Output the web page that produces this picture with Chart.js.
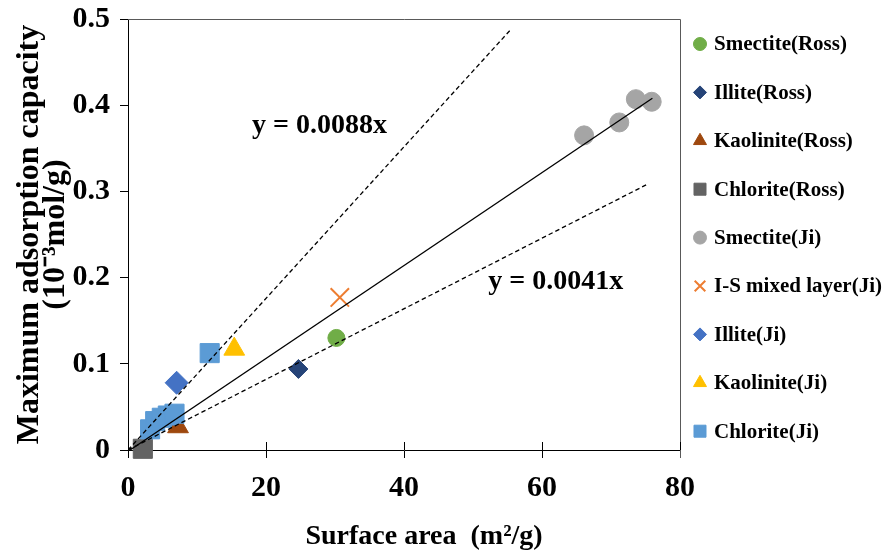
<!DOCTYPE html>
<html>
<head>
<meta charset="utf-8">
<script src="https://cdn.jsdelivr.net/npm/chart.js@4.4.1/dist/chart.umd.min.js"></script>
<style>
    html, body { margin: 0; padding: 0; background: #fff; }
    #wrap { width: 887px; height: 556px; }
</style>
</head>
<body>
<div id="wrap"><canvas id="chart" width="887" height="556"></canvas></div>
<script>
// series (surface area m2/g, capacity 10^-3 mol/g)
const seriesNames = ["Smectite(Ross)", "Illite(Ross)", "Kaolinite(Ross)", "Chlorite(Ross)",
    "Smectite(Ji)", "I-S mixed layer(Ji)", "Illite(Ji)", "Kaolinite(Ji)", "Chlorite(Ji)"];

const smectiteRossX = [30.2];
const smectiteRossY = [0.130];
const illiteRossX = [24.7];
const illiteRossY = [0.094];
const kaoliniteRossX = [7.25];
const kaoliniteRossY = [0.027];
const chloriteRossX = [2.15];
const chloriteRossY = [0.0014];
const smectiteJiX = [66.1, 71.2, 73.6, 75.9];
const smectiteJiY = [0.365, 0.380, 0.407, 0.404];
const isMixedJiX = [30.7];
const isMixedJiY = [0.177];
const illiteJiX = [7.05];
const illiteJiY = [0.078];
const kaoliniteJiX = [15.4];
const kaoliniteJiY = [0.117];
const chloriteJiX = [3.2, 3.94, 4.9, 5.77, 6.74, 11.84];
const chloriteJiY = [0.024, 0.0335, 0.0374, 0.040, 0.0421, 0.1124];

// trend lines (end points)
const trendAllX = [0.3, 76.0];
const trendAllY = [0.0, 0.408];
const trendHighX = [0, 55.5];
const trendHighY = [0, 0.488];
const trendLowX = [0, 75.2];
const trendLowY = [0, 0.308];

const equationTexts = ["y = 0.0088x", "y = 0.0041x"];
const equationX = [27.75, 62.0];
const equationY = [0.376, 0.195];

const xTicks = [0, 20, 40, 60, 80];
const yTicks = [0, 0.1, 0.2, 0.3, 0.4, 0.5];
const xTitle = "Surface area  (m\u00B2/g)";
const yTitle = ["Maximum adsorption capacity", "(10\u207B\u00B3mol/g)"];

// styling
const FONT = "'Liberation Serif', 'Times New Roman', serif";
const seriesColors = ["#70AD47", "#264478", "#9E480E", "#636363", "#A5A5A5", "#ED7D31", "#4472C4", "#FFC000", "#5B9BD5"];
const seriesShapes = ["circle", "rectRot", "triangle", "rect", "circle", "crossRot", "rectRot", "triangle", "rect"];
const seriesRadius = [8.5, 9.5, 12, 13.5, 9.5, 13, 11.5, 12, 13.5];
const legendRadius = [6.5, 6.5, 7.5, 8.5, 6.5, 7.5, 6.5, 7.5, 8.5];

const seriesX = [smectiteRossX, illiteRossX, kaoliniteRossX, chloriteRossX, smectiteJiX, isMixedJiX, illiteJiX, kaoliniteJiX, chloriteJiX];
const seriesY = [smectiteRossY, illiteRossY, kaoliniteRossY, chloriteRossY, smectiteJiY, isMixedJiY, illiteJiY, kaoliniteJiY, chloriteJiY];

function toPoints(xs, ys) {
    return xs.map((x, i) => ({ x: x, y: ys[i] }));
}

const datasets = seriesNames.map((name, i) => ({
    label: name,
    data: toPoints(seriesX[i], seriesY[i]),
    pointStyle: seriesShapes[i],
    pointRadius: seriesRadius[i],
    pointHoverRadius: seriesRadius[i],
    backgroundColor: seriesColors[i],
    borderColor: seriesColors[i],
    borderWidth: seriesShapes[i] === "crossRot" ? 2 : 1,
    // later series on top, trend lines above all
    order: 20 - i,
    clip: false
}));

function trendLine(xs, ys, dash) {
    return {
        label: "",
        data: toPoints(xs, ys),
        showLine: true,
        pointRadius: 0,
        borderColor: "#000",
        borderWidth: 1.3,
        borderDash: dash,
        order: 0
    };
}
datasets.push(trendLine(trendAllX, trendAllY, []));
datasets.push(trendLine(trendHighX, trendHighY, [4.5, 3]));
datasets.push(trendLine(trendLowX, trendLowY, [4.5, 3]));

// top / right frame and the upper half of the crossing x ticks
const framePlugin = {
    id: "frame",
    beforeDatasetsDraw(chart) {
        const { ctx, chartArea: a, scales: { x } } = chart;
        ctx.save();
        ctx.lineWidth = 1;
        ctx.strokeStyle = "#595959";
        ctx.beginPath();
        ctx.moveTo(a.left, Math.round(a.top) + 0.5);
        ctx.lineTo(Math.round(a.right) + 0.5, Math.round(a.top) + 0.5);
        ctx.lineTo(Math.round(a.right) + 0.5, a.bottom + 8);
        ctx.stroke();
        ctx.strokeStyle = "#000";
        ctx.beginPath();
        xTicks.forEach(v => {
            const px = Math.round(x.getPixelForValue(v)) + 0.5;
            ctx.moveTo(px, a.bottom - 8);
            ctx.lineTo(px, a.bottom);
        });
        ctx.stroke();
        ctx.restore();
    }
};

// equations and the x title (sits right of the plot centre in the original)
const textPlugin = {
    id: "texts",
    afterDatasetsDraw(chart) {
        const { ctx, scales: { x, y } } = chart;
        ctx.save();
        ctx.font = "bold 28px " + FONT;
        ctx.fillStyle = "#000";
        ctx.textAlign = "center";
        ctx.textBaseline = "middle";
        equationTexts.forEach((t, i) => {
            ctx.fillText(t, x.getPixelForValue(equationX[i]), y.getPixelForValue(equationY[i]));
        });
        ctx.fillText(xTitle, 424, 537);
        ctx.restore();
    }
};

// legend on the right, drawn with the library's point helper
const sideLegend = {
    id: "sideLegend",
    afterDraw(chart) {
        const { ctx, chartArea: a } = chart;
        const markX = a.right + 20;
        const textX = a.right + 34;
        const top = 44;
        const step = 48.4;
        ctx.save();
        ctx.font = "bold 21px " + FONT;
        ctx.textBaseline = "middle";
        ctx.textAlign = "left";
        seriesNames.forEach((name, i) => {
            const yy = top + i * step;
            ctx.fillStyle = seriesColors[i];
            ctx.strokeStyle = seriesColors[i];
            ctx.lineWidth = seriesShapes[i] === "crossRot" ? 2 : 1;
            Chart.helpers.drawPoint(ctx, {
                pointStyle: seriesShapes[i],
                radius: legendRadius[i],
                rotation: 0,
                borderWidth: ctx.lineWidth
            }, markX, yy);
            ctx.fillStyle = "#000";
            ctx.fillText(name, textX, yy + 1);
        });
        ctx.restore();
    }
};

new Chart(document.getElementById("chart"), {
    type: "scatter",
    data: { datasets: datasets },
    plugins: [framePlugin, textPlugin, sideLegend],
    options: {
        responsive: false,
        animation: false,
        layout: { padding: { top: 19, right: 207, left: 0, bottom: 0 } },
        plugins: {
            legend: { display: false },
            tooltip: { enabled: false }
        },
        scales: {
            x: {
                type: "linear",
                min: 0,
                max: 80,
                afterBuildTicks: s => { s.ticks = xTicks.map(v => ({ value: v })); },
                afterFit: s => { s.height = 106; },
                grid: { display: true, drawOnChartArea: false, tickLength: 8, color: "#000" },
                border: { display: true, color: "#000", width: 1 },
                ticks: { color: "#000", padding: 12, maxRotation: 0, font: { family: FONT, size: 30, weight: "bold" } },
                title: { display: false }
            },
            y: {
                type: "linear",
                min: 0,
                max: 0.5,
                afterBuildTicks: s => { s.ticks = yTicks.map(v => ({ value: v })); },
                // labels may overhang the plot top, as in the original
                afterFit: s => { s.width = 128; s.paddingTop = 0; s.paddingBottom = 0; },
                grid: { display: true, drawOnChartArea: false, tickLength: 8, color: "#000" },
                border: { display: true, color: "#000", width: 1 },
                ticks: { color: "#000", padding: 10, font: { family: FONT, size: 30, weight: "bold" } },
                title: {
                    display: true,
                    text: yTitle,
                    color: "#000",
                    padding: { top: 17, bottom: 0 },
                    font: { family: FONT, size: 32, weight: "bold", lineHeight: 0.8 }
                }
            }
        }
    }
});
</script>
</body>
</html>
